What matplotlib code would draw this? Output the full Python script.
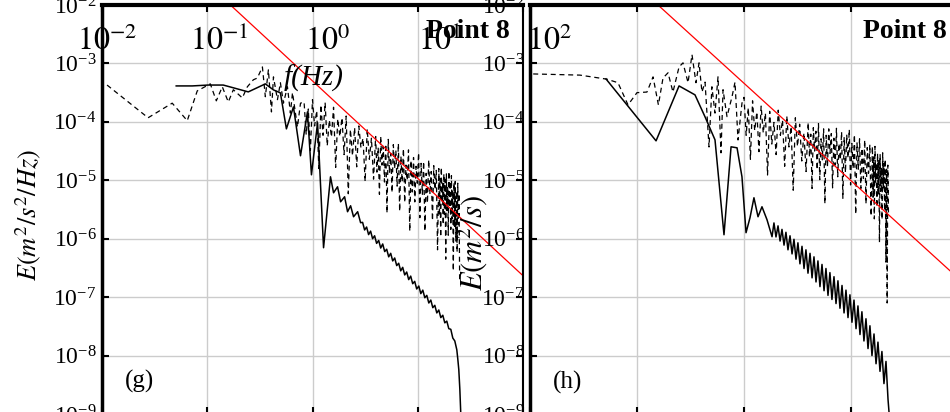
import numpy as np
import matplotlib
matplotlib.use('Agg')
import matplotlib.pyplot as plt
from matplotlib.ticker import NullLocator

plt.rcParams['font.family'] = ['Liberation Serif', 'DejaVu Serif']
plt.rcParams['mathtext.fontset'] = 'stix'
plt.rcParams['axes.unicode_minus'] = False

# values are stored as log10(f) and log10(E)

# ---- panel (g) ----
g_dash_logf = [-1.952, -1.562, -1.333, -1.19, -1.095, -0.971, -0.914, -0.857, -0.80, -0.752,
               -0.667, -0.619, -0.562, -0.524, -0.476, -0.448, -0.419, -0.39, -0.371, -0.333,
               -0.305, -0.276, -0.238, -0.21, -0.19, -0.143, -0.114,
               -0.08, -0.06, -0.04, -0.02, 0.00, 0.02, 0.04, 0.06, 0.08, 0.10, 0.12, 0.14, 0.16,
               0.18, 0.20, 0.22, 0.24, 0.26, 0.28, 0.30, 0.32, 0.34, 0.36, 0.38, 0.40, 0.42, 0.44,
               0.46, 0.48, 0.50, 0.52, 0.54, 0.56, 0.58,
               0.600, 0.612, 0.624, 0.636, 0.648, 0.660, 0.672, 0.684, 0.696, 0.708, 0.720, 0.732,
               0.744, 0.756, 0.768, 0.780, 0.792, 0.804, 0.816, 0.828, 0.840, 0.852, 0.864, 0.876,
               0.888, 0.900, 0.912, 0.924, 0.936, 0.948, 0.960, 0.972, 0.984, 0.996, 1.008, 1.020,
               1.032, 1.044, 1.056, 1.068, 1.080, 1.092, 1.104, 1.116, 1.128, 1.140, 1.152, 1.164,
               1.176, 1.188,
               1.200, 1.206, 1.212, 1.218, 1.224, 1.230, 1.236, 1.242, 1.248, 1.254, 1.260, 1.266,
               1.272, 1.278, 1.284, 1.290, 1.296, 1.302, 1.308, 1.314, 1.320, 1.326, 1.332, 1.338,
               1.344, 1.350, 1.356, 1.362, 1.368, 1.374, 1.380, 1.386, 1.392, 1.398]
g_dash_logE = [-3.37, -3.93, -3.68, -3.98, -3.47, -3.35, -3.64, -3.40, -3.66, -3.45,
               -3.59, -3.40, -3.28, -3.25, -3.06, -3.57, -3.11, -3.83, -3.23, -3.62,
               -3.33, -3.68, -3.40, -3.85, -3.50, -4.09, -3.68,
               -3.66, -4.22, -3.78, -4.49, -3.62, -4.07, -3.81, -4.80, -3.71, -4.23, -3.67, -4.41, -3.97,
               -4.26, -3.75, -4.78, -3.95, -4.25, -3.93, -4.56, -3.90, -5.23, -4.13, -4.58, -4.10, -4.77,
               -4.07, -4.44, -4.28, -5.02, -4.12, -4.64, -4.28, -4.98,
               -4.25, -4.86, -4.44, -5.24, -4.25, -4.74, -4.42, -5.03, -4.38, -5.56, -4.30, -4.88,
               -4.54, -5.21, -4.39, -4.80, -4.49, -5.10, -4.37, -5.53, -4.59, -5.03, -4.46, -5.38,
               -4.74, -5.00, -4.48, -5.87, -4.66, -5.20, -4.61, -5.37, -4.76, -5.05, -4.53, -5.64,
               -4.71, -5.24, -4.68, -5.87, -4.88, -5.39, -4.65, -5.24, -4.85, -5.69, -4.75, -5.16,
               -4.83, -6.19,
               -4.80, -5.61, -4.97, -5.97, -4.78, -5.39, -5.05, -5.76, -4.89, -5.58, -4.99, -6.35,
               -4.89, -5.52, -5.11, -5.94, -4.85, -5.46, -5.02, -5.84, -4.92, -5.66, -5.17, -6.55,
               -5.04, -5.80, -5.02, -6.04, -5.19, -6.23, -5.05, -5.76, -5.23, -6.70]

g_solid_logf = [-1.295, -1.143, -0.990, -0.848, -0.610, -0.448, -0.371, -0.305, -0.248, -0.181,
                -0.114, -0.048, -0.010, 0.048, 0.105, 0.171, 0.200, 0.238, 0.267, 0.305,
                0.333, 0.362, 0.390, 0.429, 0.457]
g_solid_logE = [-3.385, -3.385, -3.37, -3.37, -3.487, -3.35, -3.453, -3.504, -4.12, -3.744,
                -4.58, -3.83, -4.906, -4.017, -6.154, -4.94, -5.214, -5.111, -5.368, -5.282,
                -5.538, -5.436, -5.624, -5.538, -5.726]
g_band_hi_logf = [0.476, 0.514, 0.552, 0.590, 0.629, 0.667, 0.705, 0.743, 0.781, 0.819, 0.857, 0.895,
                  0.933, 0.971, 1.010, 1.048, 1.086, 1.124, 1.162, 1.200, 1.238, 1.276, 1.314, 1.352]
g_band_hi_logE = [-5.72, -5.80, -5.87, -5.95, -6.03, -6.09, -6.18, -6.25, -6.33, -6.42, -6.49, -6.57,
                  -6.64, -6.73, -6.81, -6.88, -6.97, -7.05, -7.14, -7.22, -7.31, -7.41, -7.55, -7.75]
g_band_lo_logf = [0.495, 0.533, 0.571, 0.609, 0.648, 0.686, 0.724, 0.762, 0.800, 0.838, 0.876, 0.914,
                  0.952, 0.990, 1.029, 1.067, 1.105, 1.143, 1.181, 1.219, 1.257, 1.295, 1.333, 1.371]
g_band_lo_logE = [-5.85, -5.93, -6.00, -6.08, -6.16, -6.22, -6.31, -6.38, -6.46, -6.55, -6.62, -6.70,
                  -6.77, -6.86, -6.94, -7.01, -7.10, -7.18, -7.27, -7.35, -7.44, -7.54, -7.70, -7.90]
g_tail_logf = [1.380, 1.390, 1.400, 1.408, 1.412]
g_tail_logE = [-8.05, -8.24, -8.58, -8.96, -9.40]

# ---- panel (h) ----
h_dash_logf = [-1.97, -1.533, -1.28, -1.178, -1.084, -1.0, -0.907, -0.85, -0.80, -0.757,
               -0.71, -0.664, -0.607, -0.57, -0.523, -0.486, -0.449, -0.42, -0.393, -0.364,
               -0.327, -0.30, -0.271, -0.243, -0.215, -0.196, -0.159, -0.112, -0.084, -0.056, -0.019,
               0.00, 0.02, 0.04, 0.06, 0.08, 0.10, 0.12, 0.14, 0.16, 0.18, 0.20, 0.22, 0.24, 0.26,
               0.28, 0.30, 0.32, 0.34, 0.36, 0.38, 0.40, 0.42, 0.44, 0.46, 0.48, 0.50, 0.52, 0.54,
               0.56, 0.58,
               0.600, 0.612, 0.624, 0.636, 0.648, 0.660, 0.672, 0.684, 0.696, 0.708, 0.720, 0.732,
               0.744, 0.756, 0.768, 0.780, 0.792, 0.804, 0.816, 0.828, 0.840, 0.852, 0.864, 0.876,
               0.888, 0.900, 0.912, 0.924, 0.936, 0.948, 0.960, 0.972, 0.984, 0.996, 1.008, 1.020,
               1.032, 1.044, 1.056, 1.068, 1.080, 1.092, 1.104, 1.116, 1.128, 1.140, 1.152, 1.164,
               1.176, 1.188,
               1.200, 1.206, 1.212, 1.218, 1.224, 1.230, 1.236, 1.242, 1.248, 1.254, 1.260, 1.266,
               1.272, 1.278, 1.284, 1.290, 1.296, 1.302, 1.308, 1.314, 1.320, 1.326, 1.332, 1.338,
               1.344, 1.350]
h_dash_logE = [-3.18, -3.20, -3.27, -3.33, -3.71, -3.50, -3.49, -3.23, -3.71, -3.25,
               -3.16, -3.49, -3.06, -2.99, -3.33, -2.85, -3.33, -2.99, -3.49, -3.32,
               -4.43, -3.40, -3.85, -3.23, -4.53, -3.45, -3.91, -3.57, -3.32, -4.31, -3.68,
               -3.58, -4.23, -3.76, -4.64, -3.64, -4.15, -3.83, -4.51, -3.73, -4.19, -3.85, -4.91,
               -3.82, -4.38, -4.01, -4.56, -3.80, -4.23, -3.97, -4.76, -3.90, -4.43, -4.08, -5.17,
               -3.93, -4.42, -4.04, -4.67, -4.19, -4.85,
               -4.01, -4.60, -4.21, -5.14, -4.10, -4.50, -4.16, -4.82, -4.03, -4.99, -4.29, -4.65,
               -4.12, -5.40, -4.23, -4.76, -4.12, -4.54, -4.20, -5.13, -4.28, -4.74, -4.11, -4.94,
               -4.37, -4.65, -4.17, -5.31, -4.26, -4.87, -4.22, -4.62, -4.13, -5.08, -4.37, -4.80,
               -4.22, -5.58, -4.36, -4.81, -4.29, -5.14, -4.45, -4.97, -4.31, -5.40, -4.44, -4.88,
               -4.39, -5.61,
               -4.42, -5.29, -4.60, -5.66, -4.42, -5.03, -4.70, -5.46, -4.54, -5.24, -4.65, -6.06,
               -4.56, -5.19, -4.78, -5.67, -4.53, -5.14, -4.71, -5.52, -4.64, -6.40, -4.81, -7.10,
               -4.74, -5.55]

h_solid_logf = [-1.290, -0.822, -0.607, -0.458, -0.364, -0.271, -0.187, -0.121, -0.065, -0.019,
                0.019, 0.056, 0.093, 0.131, 0.168, 0.215, 0.262]
h_solid_logE = [-3.265, -4.325, -3.385, -3.538, -3.915, -4.308, -5.932, -4.427, -4.444, -4.940,
                -5.897, -5.641, -5.299, -5.624, -5.453, -5.675, -5.966]
h_band_hi_logf = [0.280, 0.318, 0.355, 0.392, 0.430, 0.467, 0.504, 0.542, 0.579, 0.617, 0.654, 0.691,
                  0.729, 0.766, 0.803, 0.841, 0.878, 0.916, 0.953, 0.990, 1.028, 1.065, 1.102, 1.140,
                  1.177, 1.215, 1.252, 1.289, 1.327]
h_band_hi_logE = [-5.73, -5.78, -5.84, -5.89, -5.95, -6.01, -6.07, -6.13, -6.19, -6.25, -6.31, -6.38,
                  -6.44, -6.51, -6.58, -6.65, -6.72, -6.80, -6.88, -6.96, -7.05, -7.15, -7.25, -7.37,
                  -7.49, -7.63, -7.77, -7.93, -8.10]
h_band_lo_logf = [0.299, 0.337, 0.374, 0.411, 0.449, 0.486, 0.523, 0.561, 0.598, 0.636, 0.673, 0.710,
                  0.748, 0.785, 0.822, 0.860, 0.897, 0.935, 0.972, 1.009, 1.047, 1.084, 1.121, 1.159,
                  1.196, 1.234, 1.271, 1.308, 1.346]
h_band_lo_logE = [-5.97, -6.04, -6.11, -6.19, -6.26, -6.35, -6.43, -6.51, -6.59, -6.67, -6.74, -6.82,
                  -6.89, -6.97, -7.04, -7.11, -7.19, -7.27, -7.35, -7.43, -7.54, -7.64, -7.75, -7.88,
                  -8.00, -8.14, -8.27, -8.48, -8.75]
h_tail_logf = [1.355, 1.360, 1.362]
h_tail_logE = [-8.96, -9.15, -9.40]

# -5/3 reference lines (two end points each)
g_red_f = [0.05, 100.0]
g_red_E = [10 ** -1.131, 10 ** -6.633]
h_red_f = [0.05, 100.0]
h_red_E = [10 ** -1.171, 10 ** -6.673]

xticks = [1e-2, 1e-1, 1e0, 1e1, 1e2]
yticks = [1e-9, 1e-8, 1e-7, 1e-6, 1e-5, 1e-4, 1e-3, 1e-2]
top_labels = [r'$10^{-2}$', r'$10^{-1}$', r'$10^{0}$', r'$10^{1}$', r'$10^{2}$']


def solid_series(logf, logE, hi_f, hi_E, lo_f, lo_E, tail_f, tail_E):
    # zig-zag band: alternate upper and lower readings
    band_f = np.ravel(np.column_stack([hi_f, lo_f]))
    band_E = np.ravel(np.column_stack([hi_E, lo_E]))
    lf = np.concatenate([logf, band_f, tail_f])
    le = np.concatenate([logE, band_E, tail_E])
    return 10 ** lf, 10 ** le


W, H = 950, 412
fig = plt.figure(figsize=(9.5, 4.12), dpi=100)
ax_g = fig.add_axes([102 / W, 1 - 414 / H, 421 / W, 409 / H])
ax_h = fig.add_axes([530 / W, 1 - 414 / H, 428 / W, 409 / H])

panels = [
    (ax_g, g_dash_logf, g_dash_logE,
     solid_series(g_solid_logf, g_solid_logE, g_band_hi_logf, g_band_hi_logE,
                  g_band_lo_logf, g_band_lo_logE, g_tail_logf, g_tail_logE),
     g_red_f, g_red_E),
    (ax_h, h_dash_logf, h_dash_logE,
     solid_series(h_solid_logf, h_solid_logE, h_band_hi_logf, h_band_hi_logE,
                  h_band_lo_logf, h_band_lo_logE, h_tail_logf, h_tail_logE),
     h_red_f, h_red_E),
]

for ax, dlf, dle, (sf, se), rf, re in panels:
    ax.set_xscale('log')
    ax.set_yscale('log')
    ax.plot(10 ** np.array(dlf), 10 ** np.array(dle), color='k', lw=0.9, ls=(0, (4, 3)))
    ax.plot(sf, se, color='k', lw=1.1)
    ax.plot(rf, re, color='red', lw=0.9)
    ax.set_xlim(1e-2, 1e2)
    ax.set_ylim(1e-9, 1e-2)
    ax.set_xticks(xticks)
    ax.set_yticks(yticks)
    ax.xaxis.set_minor_locator(NullLocator())
    ax.yaxis.set_minor_locator(NullLocator())
    ax.grid(True, color='#cccccc', lw=1)
    ax.set_axisbelow(True)
    ax.tick_params(direction='in', top=True, right=True, labelbottom=False,
                   length=5, width=1.5, labelsize=17, pad=4)
    for s in ax.spines.values():
        s.set_linewidth(1.5)
    ax.spines['top'].set_linewidth(3)
    ax.spines['left'].set_linewidth(2.5)


def ftext(x, y, s, **kw):
    fig.text(x / W, 1 - y / H, s, **kw)


# tick labels of the panel above that spill into this one
for x, s in zip([77, 190, 305, 418, 527], top_labels):
    ftext(x, 50, s, fontsize=23, ha='left', va='baseline')

ftext(314, 78, 'f(Hz)', fontsize=21, style='italic', ha='center', va='center')
ftext(510, 38, 'Point 8', fontsize=20, weight='bold', ha='right', va='baseline')
ftext(947, 38, 'Point 8', fontsize=20, weight='bold', ha='right', va='baseline')
ftext(125, 381, '(g)', fontsize=18, ha='left', va='center')
ftext(553, 382, '(h)', fontsize=18, ha='left', va='center')
ftext(28, 215, r'$E(m^2/s^2/Hz)$', fontsize=19, rotation=90, ha='center', va='center')
ftext(472, 243, r'$E(m^2/s)$', fontsize=22, rotation=90, ha='center', va='center')

fig.savefig('out.png', dpi=100)
plt.close(fig)
